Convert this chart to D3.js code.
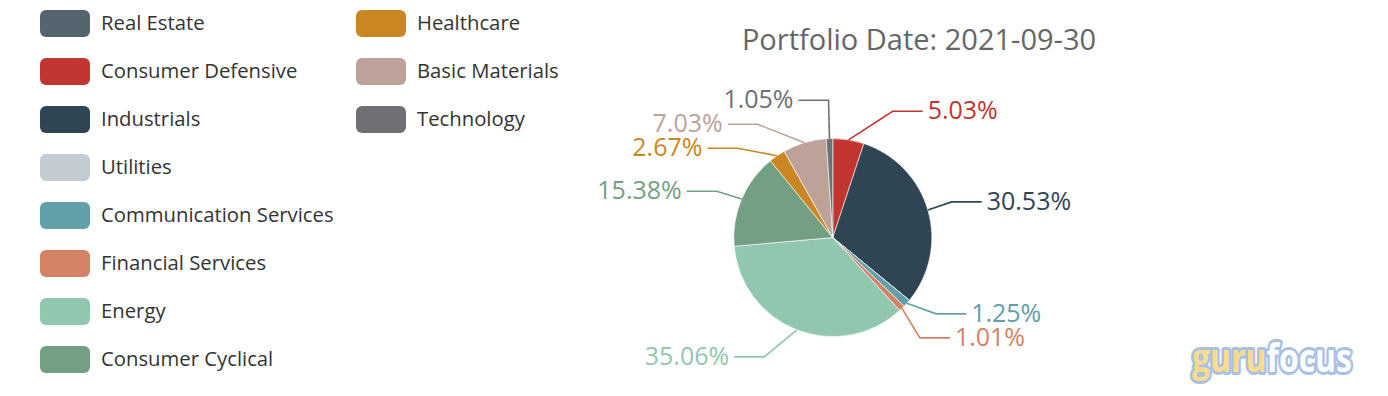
<!DOCTYPE html>
<html lang="en">
<head>
<meta charset="UTF-8"/>
<title>Portfolio Date pie</title>
<script src="https://d3js.org/d3.v7.min.js"></script>
<style>
    body { margin: 0; background: #fff; }
    text { font-family: "Open Sans", "Noto Sans", sans-serif; }
</style>
</head>
<body>
<div id="chart"></div>
<script>
    // data
    var sectors = ["Real Estate", "Consumer Defensive", "Industrials", "Utilities",
        "Communication Services", "Financial Services", "Energy", "Consumer Cyclical",
        "Healthcare", "Basic Materials", "Technology"];
    var weights = [0, 5.03, 30.53, 0, 1.25, 1.01, 35.06, 15.38, 2.67, 7.03, 1.05];
    var title = "Portfolio Date: 2021-09-30";

    // echarts-like default palette
    var palette = ["#546570", "#c23531", "#2f4554", "#c4ccd3", "#61a0a8", "#d48265",
        "#91c7ae", "#749f83", "#ca8622", "#bda29a", "#6e7074"];

    var width = 1388, height = 396;
    var cx = width * 0.6, cy = height * 0.6;
    var r = Math.min(width, height) / 2 * 0.5;
    var len = 29, len2 = 30, labelDist = 5, labelH = 24;

    var color = d3.scaleOrdinal().domain(sectors).range(palette);

    var svg = d3.select("#chart").append("svg")
        .attr("width", width).attr("height", height);

    // legend, two columns of 8
    var legend = svg.append("g").selectAll("g")
        .data(sectors).enter().append("g")
        .attr("transform", function (d, i) {
            return "translate(" + (40 + Math.floor(i / 8) * 316) + "," + (10 + (i % 8) * 48) + ")";
        });
    legend.append("rect")
        .attr("width", 50).attr("height", 27).attr("rx", 6)
        .attr("fill", function (d) { return color(d); });
    legend.append("text")
        .attr("x", 61).attr("y", 11.5)
        .attr("dominant-baseline", "central")
        .attr("font-size", 20.3).attr("fill", "#333")
        .text(function (d) { return d; });

    // title
    svg.append("text")
        .attr("x", 919).attr("y", 50)
        .attr("text-anchor", "middle")
        .attr("font-size", 29).attr("fill", "#666")
        .text(title);

    var pie = d3.pie().sort(null).value(function (d) { return d.value; });
    var arcs = pie(sectors.map(function (s, i) { return {name: s, value: weights[i]}; }));
    var arc = d3.arc().innerRadius(0).outerRadius(r);

    var g = svg.append("g").attr("transform", "translate(" + cx + "," + cy + ")");
    g.selectAll("path").data(arcs).enter().append("path")
        .attr("d", arc)
        .attr("fill", function (d) { return color(d.data.name); })
        .attr("stroke", "#fff").attr("stroke-width", 0.6);

    // outside labels, laid out the way echarts 4 does it
    var labels = [];
    arcs.forEach(function (a) {
        if (!a.data.value) return;
        var mid = (a.startAngle + a.endAngle) / 2;
        var dx = Math.sin(mid), dy = -Math.cos(mid);
        var dir = dx < 0 ? -1 : 1;
        var x2 = cx + (r + len) * dx, y2 = cy + (r + len) * dy;
        labels.push({
            d: a.data, dir: dir,
            x: x2 + dir * (len2 + labelDist), y: y2,
            pts: [[cx + r * dx, cy + r * dy], [x2, y2], [x2 + dir * len2, y2]]
        });
    });

    function adjustSide(list, dir) {
        list.sort(function (a, b) { return a.y - b.y; });
        var n = list.length;

        function shiftUp(end, delta) {
            for (var j = end; j >= 0; j--) {
                if (list[j].y - delta < 0) break;
                list[j].y -= delta;
                if (j > 0 && list[j].y > list[j - 1].y + labelH) break;
            }
        }

        function shiftDown(start, end, delta) {
            for (var j = start; j < end; j++) {
                if (list[j].y + delta > height) break;
                list[j].y += delta;
                if (j > start && j + 1 < end && list[j + 1].y > list[j].y + labelH) {
                    shiftUp(j, delta / 2);
                    return;
                }
            }
            shiftUp(end - 1, delta / 2);
        }

        var lastY = 0;
        for (var i = 0; i < n; i++) {
            var delta = list[i].y - lastY;
            if (delta < 0) shiftDown(i, n, -delta);
            lastY = list[i].y + labelH;
        }

        function changeX(sub, isDown) {
            var last = isDown ? Number.MAX_VALUE : 0;
            sub.forEach(function (l) {
                var ddy = Math.abs(l.y - cy);
                var ddx = ddy < r + len
                    ? Math.sqrt((r + len + len2) * (r + len + len2) - ddy * ddy)
                    : Math.abs(l.x - cx);
                if (isDown && ddx >= last) ddx = last - 10;
                if (!isDown && ddx <= last) ddx = last + 10;
                l.x = cx + ddx * dir;
                last = ddx;
            });
        }
        changeX(list.filter(function (l) { return l.y < cy; }), false);
        changeX(list.filter(function (l) { return l.y >= cy; }), true);

        list.forEach(function (l) {
            l.pts[2][0] = l.x - dir * labelDist;
            l.pts[1][0] = l.pts[2][0] - dir * len2;
            l.pts[1][1] = l.pts[2][1] = l.y;
        });
    }
    adjustSide(labels.filter(function (l) { return l.dir > 0; }), 1);
    adjustSide(labels.filter(function (l) { return l.dir < 0; }), -1);

    var line = d3.line();
    svg.append("g").selectAll("path").data(labels).enter().append("path")
        .attr("d", function (l) { return line(l.pts); })
        .attr("fill", "none").attr("stroke-width", 1.6)
        .attr("stroke", function (l) { return color(l.d.name); });
    svg.append("g").selectAll("text").data(labels).enter().append("text")
        .attr("x", function (l) { return l.x; })
        .attr("y", function (l) { return l.y - 2; })
        .attr("text-anchor", function (l) { return l.dir > 0 ? "start" : "end"; })
        .attr("dominant-baseline", "central")
        .attr("font-size", 25)
        .attr("fill", function (l) { return color(l.d.name); })
        .text(function (l) { return l.d.value.toFixed(2) + "%"; });

    // watermark
    var wm = svg.append("text")
        .attr("x", 1192).attr("y", 372)
        .attr("font-family", "DejaVu Sans Condensed, DejaVu Sans")
        .attr("font-weight", "bold").attr("font-size", 40)
        .attr("textLength", 160).attr("lengthAdjust", "spacingAndGlyphs")
        .attr("stroke", "#9ab7e0").attr("stroke-width", 6)
        .attr("stroke-linejoin", "round")
        .attr("paint-order", "stroke").attr("opacity", 0.85);
    wm.append("tspan").attr("fill", "#fcd779").text("guru");
    wm.append("tspan").attr("fill", "#fff").text("focus");
</script>
</body>
</html>
